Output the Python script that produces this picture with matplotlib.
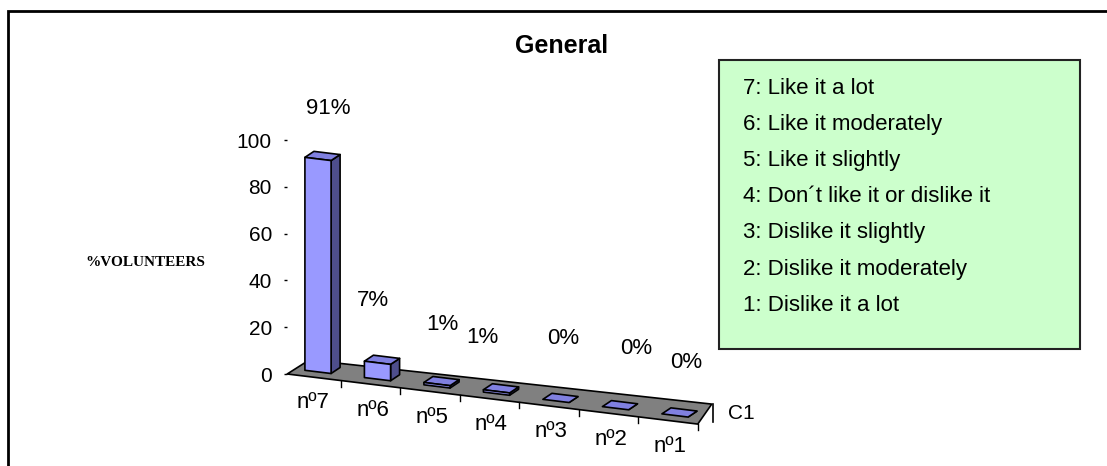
import numpy as np
import matplotlib
matplotlib.use("Agg")
import matplotlib.pyplot as plt
from matplotlib.patches import Polygon, Rectangle
from matplotlib.transforms import Affine2D

# ---------------- data ----------------
CATEGORIES = ["nº7", "nº6", "nº5", "nº4", "nº3", "nº2", "nº1"]
VALUES = [91, 7, 1, 1, 0, 0, 0]
Y_TICKS = [0, 20, 40, 60, 80, 100]
SERIES_NAME = "C1"
TITLE = "General"
Y_LABEL = "%VOLUNTEERS"
LEGEND_LINES = [
    "7: Like it a lot",
    "6: Like it moderately",
    "5: Like it slightly",
    "4: Don\u00b4t like it or dislike it",
    "3: Dislike it slightly",
    "2: Dislike it moderately",
    "1: Dislike it a lot",
]

# ---------------- layout / style ----------------
W, H, DPI = 1107, 466, 100
FONT = "Liberation Sans"
plt.rcParams["font.family"] = [FONT, "DejaVu Sans"]

X0_PX, X_UNIT = 311.0, 59.5      # category 0 centre and px per category
Y0_PX, Y_UNIT = 374.0, 2.34      # value 0 and px per value unit
XLIM = (-0.40, 7.0)
YLIM = (-30, 110)
SLOPE = 0.122                    # floor slope (px down per px right)

FLOOR_DEPTH_L = (22, -14)        # image px (right, down)
FLOOR_DEPTH_R = (14, -20)
BAR_OFF = (7, -5)                # bar front placed behind front edge
BAR_DEPTH = (9, -6)
BAR_HALF = 0.22
# label nudges in image px (right, down) from the bar-top centre
LABEL_NUDGE = [(10, -50), (-5, -62), (5, -60), (-14, -54), (7, -62), (21, -60), (11, -53)]

FRONT_C = "#9999ff"
TOP_C = "#8080e0"
SIDE_C = "#4e4e8c"
FLOOR_C = "#808080"

fig = plt.figure(figsize=(W / DPI, H / DPI), dpi=DPI)
fig.patch.set_facecolor("white")

left_px = X0_PX + XLIM[0] * X_UNIT
right_px = X0_PX + XLIM[1] * X_UNIT
bot_px = Y0_PX - YLIM[0] * Y_UNIT
top_px = Y0_PX - YLIM[1] * Y_UNIT
ax = fig.add_axes([left_px / W, 1 - bot_px / H, (right_px - left_px) / W, (bot_px - top_px) / H])
ax.set_xlim(*XLIM)
ax.set_ylim(*YLIM)
ax.patch.set_alpha(0)
for s in ax.spines.values():
    s.set_visible(False)
ax.set_xticks([])
ax.set_yticks(Y_TICKS)
ax.tick_params(axis="y", length=2, width=1, pad=9, labelsize=15, colors="black")

# shear in display space around the axis origin
ox, oy = ax.transData.transform((XLIM[0], 0))
shear = Affine2D().translate(-ox, -oy).skew(0, np.arctan(-SLOPE)).translate(ox, oy)
inv = ax.transData.inverted()


def P(x, v, off=(0, 0), off2=(0, 0)):
    d = shear.transform(ax.transData.transform((x, v)))
    d = d + np.array([off[0] + off2[0], -(off[1] + off2[1])])
    return inv.transform(d)


def poly(pts, fc, z):
    ax.add_patch(Polygon(pts, closed=True, facecolor=fc, edgecolor="black",
                         linewidth=1.2, joinstyle="round", clip_on=False, zorder=z))


n = len(CATEGORIES)
pos = np.arange(n)
x_floor_r = pos[-1] + 0.5

# floor
fl = P(XLIM[0], 0)
fr = P(x_floor_r, 0)
bl = P(XLIM[0], 0, FLOOR_DEPTH_L)
br = P(x_floor_r, 0, FLOOR_DEPTH_R)
poly([fl, fr, br, bl], FLOOR_C, 1)

# floor ticks on the front edge
for b in pos + 0.5:
    a1 = P(b, 0)
    a2 = P(b, 0, (0, 6))
    ax.plot([a1[0], a2[0]], [a1[1], a2[1]], color="black", lw=1, clip_on=False, zorder=1.5)

# depth-axis tick and series name
t1 = P(x_floor_r, 0, FLOOR_DEPTH_R, (1, 0))
t2 = P(x_floor_r, 0, FLOOR_DEPTH_R, (1, 18))
ax.plot([t1[0], t2[0]], [t1[1], t2[1]], color="black", lw=1.2, clip_on=False)
ax.annotate(SERIES_NAME, xy=t1, xytext=(15, -9), textcoords="offset pixels",
            ha="left", va="center", fontsize=15, annotation_clip=False)

# bars
for i, (x, v) in enumerate(zip(pos, VALUES)):
    BL = P(x - BAR_HALF, 0, BAR_OFF)
    BR = P(x + BAR_HALF, 0, BAR_OFF)
    TL = P(x - BAR_HALF, v, BAR_OFF)
    TR = P(x + BAR_HALF, v, BAR_OFF)
    TLd = P(x - BAR_HALF, v, BAR_OFF, BAR_DEPTH)
    TRd = P(x + BAR_HALF, v, BAR_OFF, BAR_DEPTH)
    BRd = P(x + BAR_HALF, 0, BAR_OFF, BAR_DEPTH)
    z = 2 + i * 0.01
    poly([BR, TR, TRd, BRd], SIDE_C, z)
    poly([TL, TR, TRd, TLd], TOP_C, z)
    if v > 0:
        poly([BL, BR, TR, TL], FRONT_C, z)
    top_c = P(x, v, BAR_OFF)
    ndx, ndy = LABEL_NUDGE[i]
    ax.annotate(f"{v}%", xy=top_c, xytext=(ndx, -ndy), textcoords="offset pixels",
                ha="center", va="center", fontsize=16, annotation_clip=False)
    ax.annotate(CATEGORIES[i], xy=P(x, 0), xytext=(2, -26), textcoords="offset pixels",
                ha="center", va="center", fontsize=16, annotation_clip=False)

# title and axis label
fig.text(562 / W, 1 - 46 / H, TITLE, ha="center", va="center", fontsize=18, fontweight="bold")
fig.text(145 / W, 1 - 262 / H, Y_LABEL, ha="center", va="center", fontsize=11,
         fontweight="bold", family=["Liberation Serif", "DejaVu Serif"])

# legend box
fig.patches.append(Rectangle((719 / W, 1 - 349 / H), (1080 - 719) / W, (349 - 60) / H,
                             transform=fig.transFigure, facecolor="#ccffcc",
                             edgecolor="#222222", linewidth=1.5))
for k, line in enumerate(LEGEND_LINES):
    fig.text(743 / W, 1 - (88 + k * 36.2) / H, line, ha="left", va="center", fontsize=16)

# outer frame (right/bottom edges fall outside the picture)
fig.patches.append(Rectangle((8 / W, -0.2), 1.2, 1.2 - 11 / H, transform=fig.transFigure,
                             facecolor="none", edgecolor="black", linewidth=2))

fig.savefig("out.png", dpi=DPI)
